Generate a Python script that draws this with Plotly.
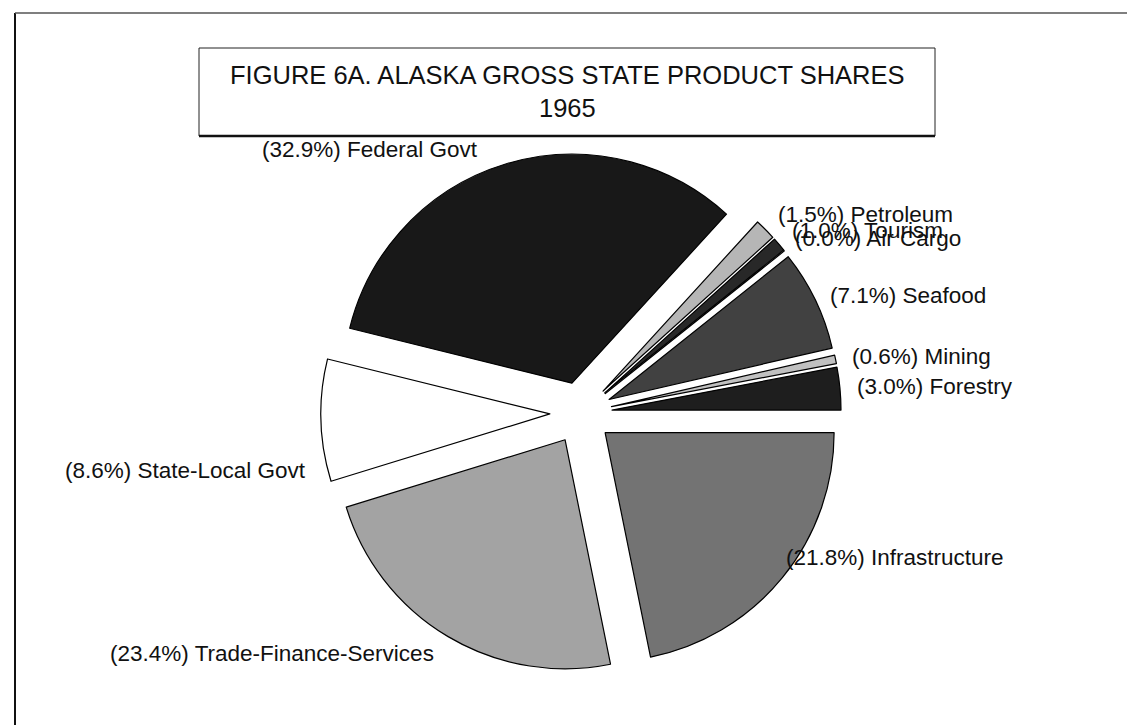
import plotly.graph_objects as go

# ---- data ----
categories = ["Forestry", "Mining", "Seafood", "Air Cargo", "Tourism",
              "Petroleum", "Federal Govt", "State-Local Govt",
              "Trade-Finance-Services", "Infrastructure"]
shares = [3.0, 0.6, 7.1, 0.0, 1.0, 1.5, 32.9, 8.6, 23.4, 21.8]
slice_colors = ["#1e1e1e", "#c0c0c0", "#414141", "#2a2a2a", "#282828",
                "#b6b6b6", "#181818", "#ffffff", "#a3a3a3", "#737373"]
title_line1 = "FIGURE 6A. ALASKA GROSS STATE PRODUCT SHARES"
title_line2 = "1965"

# label placement (pixel coords: x, y, anchor)
label_pos = {
    "Forestry": (847, 378, "left"),
    "Mining": (842, 348, "left"),
    "Seafood": (820, 287, "left"),
    "Air Cargo": (785, 230, "left"),
    "Tourism": (782, 222, "left"),
    "Petroleum": (768, 206, "left"),
    "Federal Govt": (362, 141, "center"),
    "State-Local Govt": (300, 462, "right"),
    "Trade-Finance-Services": (428, 645, "right"),
    "Infrastructure": (776, 549, "left"),
}

W, H = 1135, 725
cx, cy, r, pull = 573, 405, 229, 0.136
half = r * (1 + pull)
# first slice (Forestry) should start at 3 o'clock and run counterclockwise
start_rot = 90 - 360 * shares[0] / sum(shares)

fig = go.Figure()
fig.add_trace(go.Pie(
    labels=categories, values=shares, sort=False,
    direction="counterclockwise", rotation=start_rot,
    pull=[pull] * len(shares), textinfo="none", hoverinfo="label+percent",
    marker=dict(colors=slice_colors, line=dict(color="#000000", width=1.2)),
    domain=dict(x=[(cx - half) / W, (cx + half) / W],
                y=[1 - (cy + half) / H, 1 - (cy - half) / H]),
    showlegend=False,
))

font_family = "Liberation Sans, Arial, sans-serif"
annotations = []
for cat, val in zip(categories, shares):
    x, y, anchor = label_pos[cat]
    annotations.append(dict(
        x=x, y=y, xref="x", yref="y", text=f"({val:.1f}%) {cat}",
        showarrow=False, xanchor=anchor, yanchor="middle",
        font=dict(family=font_family, size=22.5, color="#111111")))
annotations.append(dict(x=559, y=67, xref="x", yref="y", text=title_line1,
                        showarrow=False, xanchor="center", yanchor="middle",
                        font=dict(family=font_family, size=25.5, color="#111111")))
annotations.append(dict(x=559, y=100, xref="x", yref="y", text=title_line2,
                        showarrow=False, xanchor="center", yanchor="middle",
                        font=dict(family=font_family, size=25.5, color="#111111")))

shapes = [
    dict(type="rect", xref="x", yref="y", x0=191, x1=927, y0=40, y1=128,
         line=dict(color="#222222", width=1), fillcolor="rgba(255,255,255,0)"),
    dict(type="line", xref="x", yref="y", x0=191, x1=927, y0=128, y1=128,
         line=dict(color="#111111", width=2.5)),
    dict(type="line", xref="x", yref="y", x0=7, x1=7, y0=5, y1=725,
         line=dict(color="#111111", width=2)),
    dict(type="line", xref="x", yref="y", x0=7, x1=1133, y0=5, y1=5,
         line=dict(color="#555555", width=1.5)),
    dict(type="line", xref="x", yref="y", x0=1133, x1=1133, y0=5, y1=660,
         line=dict(color="#555555", width=1)),
]

fig.update_layout(
    width=W, height=H, margin=dict(l=0, r=0, t=0, b=0),
    paper_bgcolor="white", plot_bgcolor="rgba(0,0,0,0)",
    xaxis=dict(range=[0, W], visible=False, fixedrange=True, domain=[0, 1]),
    yaxis=dict(range=[H, 0], visible=False, fixedrange=True, domain=[0, 1]),
    annotations=annotations, shapes=shapes,
)
fig.write_html("out.html")
